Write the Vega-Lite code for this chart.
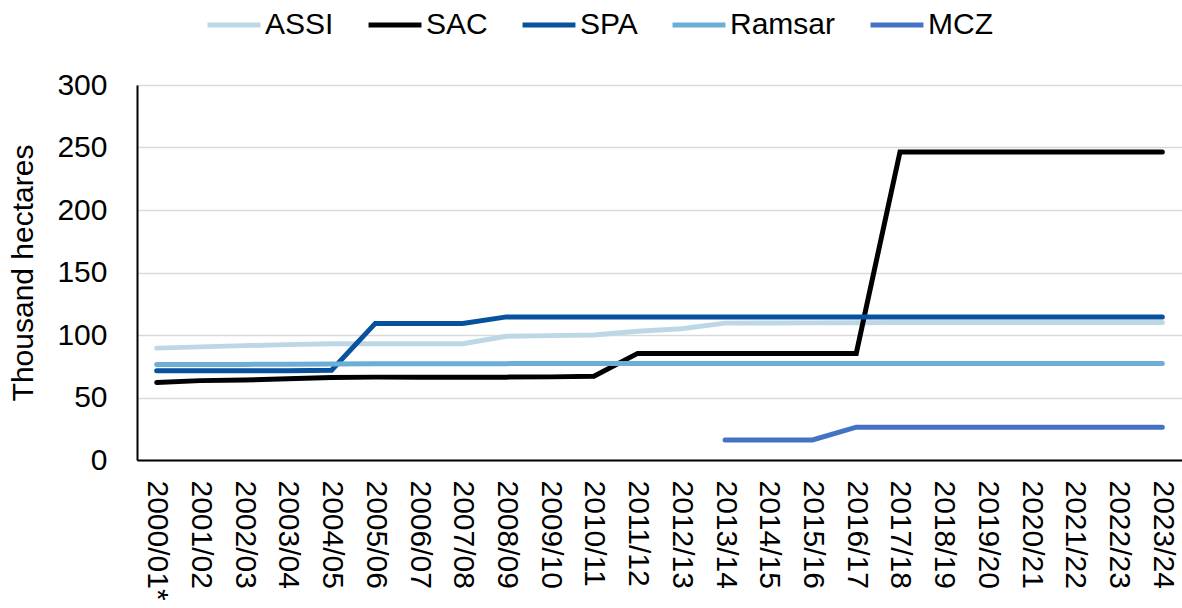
{
  "$schema": "https://vega.github.io/schema/vega-lite/v6.json",
  "width": 1045,
  "height": 375,
  "autosize": {"type": "none"},
  "padding": {"left": 137, "top": 85, "right": 0, "bottom": 148},
  "background": "white",
  "config": {
    "font": "Liberation Sans",
    "view": {"stroke": null}
  },
  "data": {
    "values": [
      {"year": "2000/01*", "series": "ASSI", "value": 89.5},
      {"year": "2001/02", "series": "ASSI", "value": 90.5},
      {"year": "2002/03", "series": "ASSI", "value": 91.5},
      {"year": "2003/04", "series": "ASSI", "value": 92.3},
      {"year": "2004/05", "series": "ASSI", "value": 93},
      {"year": "2005/06", "series": "ASSI", "value": 93},
      {"year": "2006/07", "series": "ASSI", "value": 93},
      {"year": "2007/08", "series": "ASSI", "value": 93},
      {"year": "2008/09", "series": "ASSI", "value": 99},
      {"year": "2009/10", "series": "ASSI", "value": 99.5},
      {"year": "2010/11", "series": "ASSI", "value": 100},
      {"year": "2011/12", "series": "ASSI", "value": 103},
      {"year": "2012/13", "series": "ASSI", "value": 105},
      {"year": "2013/14", "series": "ASSI", "value": 109.5},
      {"year": "2014/15", "series": "ASSI", "value": 109.6},
      {"year": "2015/16", "series": "ASSI", "value": 109.7},
      {"year": "2016/17", "series": "ASSI", "value": 109.8},
      {"year": "2017/18", "series": "ASSI", "value": 110},
      {"year": "2018/19", "series": "ASSI", "value": 110},
      {"year": "2019/20", "series": "ASSI", "value": 110},
      {"year": "2020/21", "series": "ASSI", "value": 110},
      {"year": "2021/22", "series": "ASSI", "value": 110},
      {"year": "2022/23", "series": "ASSI", "value": 110},
      {"year": "2023/24", "series": "ASSI", "value": 110},

      {"year": "2000/01*", "series": "SAC", "value": 62},
      {"year": "2001/02", "series": "SAC", "value": 63.5},
      {"year": "2002/03", "series": "SAC", "value": 64},
      {"year": "2003/04", "series": "SAC", "value": 65},
      {"year": "2004/05", "series": "SAC", "value": 66},
      {"year": "2005/06", "series": "SAC", "value": 66.3},
      {"year": "2006/07", "series": "SAC", "value": 66.3},
      {"year": "2007/08", "series": "SAC", "value": 66.3},
      {"year": "2008/09", "series": "SAC", "value": 66.3},
      {"year": "2009/10", "series": "SAC", "value": 66.5},
      {"year": "2010/11", "series": "SAC", "value": 67},
      {"year": "2011/12", "series": "SAC", "value": 85.3},
      {"year": "2012/13", "series": "SAC", "value": 85.3},
      {"year": "2013/14", "series": "SAC", "value": 85.3},
      {"year": "2014/15", "series": "SAC", "value": 85.3},
      {"year": "2015/16", "series": "SAC", "value": 85.3},
      {"year": "2016/17", "series": "SAC", "value": 85.3},
      {"year": "2017/18", "series": "SAC", "value": 246.5},
      {"year": "2018/19", "series": "SAC", "value": 246.5},
      {"year": "2019/20", "series": "SAC", "value": 246.5},
      {"year": "2020/21", "series": "SAC", "value": 246.5},
      {"year": "2021/22", "series": "SAC", "value": 246.5},
      {"year": "2022/23", "series": "SAC", "value": 246.5},
      {"year": "2023/24", "series": "SAC", "value": 246.5},

      {"year": "2000/01*", "series": "SPA", "value": 71.5},
      {"year": "2001/02", "series": "SPA", "value": 71.5},
      {"year": "2002/03", "series": "SPA", "value": 71.5},
      {"year": "2003/04", "series": "SPA", "value": 71.5},
      {"year": "2004/05", "series": "SPA", "value": 71.8},
      {"year": "2005/06", "series": "SPA", "value": 109.3},
      {"year": "2006/07", "series": "SPA", "value": 109.3},
      {"year": "2007/08", "series": "SPA", "value": 109.3},
      {"year": "2008/09", "series": "SPA", "value": 114.5},
      {"year": "2009/10", "series": "SPA", "value": 114.5},
      {"year": "2010/11", "series": "SPA", "value": 114.5},
      {"year": "2011/12", "series": "SPA", "value": 114.5},
      {"year": "2012/13", "series": "SPA", "value": 114.5},
      {"year": "2013/14", "series": "SPA", "value": 114.5},
      {"year": "2014/15", "series": "SPA", "value": 114.5},
      {"year": "2015/16", "series": "SPA", "value": 114.5},
      {"year": "2016/17", "series": "SPA", "value": 114.5},
      {"year": "2017/18", "series": "SPA", "value": 114.5},
      {"year": "2018/19", "series": "SPA", "value": 114.5},
      {"year": "2019/20", "series": "SPA", "value": 114.5},
      {"year": "2020/21", "series": "SPA", "value": 114.5},
      {"year": "2021/22", "series": "SPA", "value": 114.5},
      {"year": "2022/23", "series": "SPA", "value": 114.5},
      {"year": "2023/24", "series": "SPA", "value": 114.5},

      {"year": "2000/01*", "series": "Ramsar", "value": 76.5},
      {"year": "2001/02", "series": "Ramsar", "value": 76.5},
      {"year": "2002/03", "series": "Ramsar", "value": 76.5},
      {"year": "2003/04", "series": "Ramsar", "value": 76.6},
      {"year": "2004/05", "series": "Ramsar", "value": 76.8},
      {"year": "2005/06", "series": "Ramsar", "value": 77},
      {"year": "2006/07", "series": "Ramsar", "value": 77},
      {"year": "2007/08", "series": "Ramsar", "value": 77},
      {"year": "2008/09", "series": "Ramsar", "value": 77.1},
      {"year": "2009/10", "series": "Ramsar", "value": 77.2},
      {"year": "2010/11", "series": "Ramsar", "value": 77.3},
      {"year": "2011/12", "series": "Ramsar", "value": 77.3},
      {"year": "2012/13", "series": "Ramsar", "value": 77.3},
      {"year": "2013/14", "series": "Ramsar", "value": 77.3},
      {"year": "2014/15", "series": "Ramsar", "value": 77.3},
      {"year": "2015/16", "series": "Ramsar", "value": 77.3},
      {"year": "2016/17", "series": "Ramsar", "value": 77.3},
      {"year": "2017/18", "series": "Ramsar", "value": 77.3},
      {"year": "2018/19", "series": "Ramsar", "value": 77.3},
      {"year": "2019/20", "series": "Ramsar", "value": 77.3},
      {"year": "2020/21", "series": "Ramsar", "value": 77.3},
      {"year": "2021/22", "series": "Ramsar", "value": 77.3},
      {"year": "2022/23", "series": "Ramsar", "value": 77.3},
      {"year": "2023/24", "series": "Ramsar", "value": 77.3},

      {"year": "2013/14", "series": "MCZ", "value": 16},
      {"year": "2014/15", "series": "MCZ", "value": 16},
      {"year": "2015/16", "series": "MCZ", "value": 16},
      {"year": "2016/17", "series": "MCZ", "value": 26.3},
      {"year": "2017/18", "series": "MCZ", "value": 26.3},
      {"year": "2018/19", "series": "MCZ", "value": 26.3},
      {"year": "2019/20", "series": "MCZ", "value": 26.3},
      {"year": "2020/21", "series": "MCZ", "value": 26.3},
      {"year": "2021/22", "series": "MCZ", "value": 26.3},
      {"year": "2022/23", "series": "MCZ", "value": 26.3},
      {"year": "2023/24", "series": "MCZ", "value": 26.3}
    ]
  },
  "mark": {"type": "line", "strokeWidth": 5, "strokeCap": "round"},
  "encoding": {
    "x": {
      "field": "year",
      "type": "ordinal",
      "sort": null,
      "scale": {"type": "point", "padding": 0.45},
      "axis": {
        "title": null,
        "labelAngle": 90,
        "labelFontSize": 30,
        "labelColor": "#000000",
        "labelPadding": 20,
        "ticks": false,
        "domainColor": "#000000",
        "domainWidth": 2,
        "grid": false,
        "labelOverlap": false
      }
    },
    "y": {
      "field": "value",
      "type": "quantitative",
      "scale": {"domain": [0, 300], "nice": false},
      "axis": {
        "title": "Thousand hectares",
        "titleFontSize": 30,
        "titleFontWeight": "normal",
        "titleColor": "#000000",
        "titlePadding": 18,
        "values": [0, 50, 100, 150, 200, 250, 300],
        "labelFontSize": 30,
        "labelColor": "#000000",
        "labelPadding": 30,
        "ticks": false,
        "domainColor": "#000000",
        "domainWidth": 2,
        "gridColor": "#d9d9d9",
        "gridWidth": 1.5
      }
    },
    "color": {
      "field": "series",
      "type": "nominal",
      "scale": {
        "domain": ["ASSI", "SAC", "SPA", "Ramsar", "MCZ"],
        "range": ["#bdd7e7", "#000000", "#08519c", "#6baed6", "#4472c4"]
      },
      "legend": {
        "title": null,
        "orient": "none",
        "direction": "horizontal",
        "legendX": 68,
        "legendY": -89,
        "symbolType": "stroke",
        "symbolSize": 2800,
        "symbolStrokeWidth": 5,
        "labelFontSize": 30,
        "labelColor": "#000000",
        "labelOffset": 2,
        "columnPadding": 24
      }
    }
  }
}
